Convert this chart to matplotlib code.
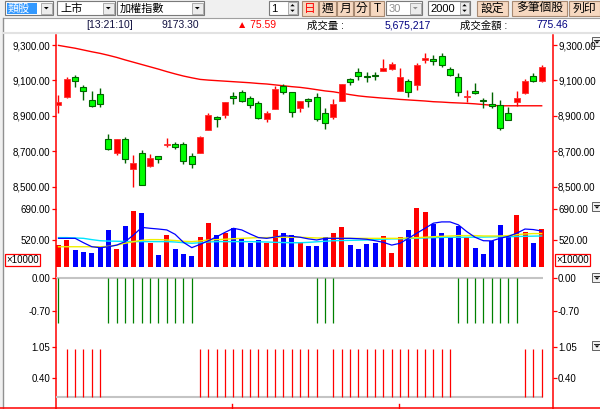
import numpy as np
import matplotlib.pyplot as plt
from matplotlib.patches import Rectangle, Polygon

plt.rcParams['font.family'] = ['Liberation Sans', 'Noto Sans CJK TC', 'DejaVu Sans']

W, H = 600, 409

# 加權指數 日K (開, 高, 低, 收)
opens = [8961, 9008, 9121, 9064, 8989, 9023, 8769, 8688, 8769, 8598,
         8688, 8616, 8675, 8737, 8739, 8739, 8673, 8692, 8820, 8892,
         8905, 9012, 9036, 8999, 8971, 8880, 8937, 9068, 9033, 8946,
         8995, 9005, 8914, 8895, 8984, 9108, 9148, 9127, 9132, 9151,
         9163, 9040, 9098, 9074, 9215, 9219, 9238, 9163, 9118, 9005,
         9040, 8991, 8965, 8961, 8918, 8980, 9031, 9125, 9097]
highs = [9017, 9121, 9130, 9074, 9040, 9055, 8797, 8769, 8779, 8678,
         8706, 8684, 8675, 8773, 8750, 8750, 8688, 8786, 8916, 8899,
         8980, 9036, 9046, 9014, 8984, 8927, 9070, 9078, 9036, 8984,
         9002, 9031, 8942, 8993, 9080, 9115, 9168, 9149, 9149, 9221,
         9206, 9168, 9106, 9197, 9253, 9243, 9255, 9177, 9144, 9046,
         9087, 9002, 9036, 8989, 8951, 9040, 9110, 9144, 9187]
lows = [8916, 8999, 9061, 8989, 8950, 8948, 8710, 8678, 8632, 8500,
        8509, 8609, 8635, 8725, 8712, 8628, 8603, 8692, 8820, 8838,
        8886, 8967, 8980, 8942, 8880, 8867, 8937, 9021, 8895, 8923,
        8951, 8872, 8825, 8880, 8984, 9074, 9102, 9093, 9105, 9151,
        9159, 9040, 9008, 9046, 9197, 9189, 9178, 9125, 9014, 8980,
        9021, 8942, 8946, 8823, 8876, 8955, 9025, 9089, 9093]
closes = [8980, 9106, 9098, 9042, 8955, 8967, 8712, 8769, 8654, 8632,
          8509, 8660, 8654, 8744, 8725, 8646, 8628, 8779, 8905, 8884,
          8980, 9002, 8985, 8961, 8889, 8914, 9050, 9036, 8920, 8984,
          8984, 8880, 8858, 8967, 9080, 9093, 9127, 9118, 9127, 9172,
          9191, 9121, 9036, 9187, 9225, 9211, 9187, 9131, 9033, 9014,
          9027, 8985, 8954, 8829, 8876, 9001, 9098, 9097, 9173.3]
ma_long = [9298, 9290, 9282, 9272, 9262, 9253, 9242, 9230, 9216, 9203,
           9190, 9177, 9164, 9150, 9137, 9125, 9115, 9106, 9102, 9099,
           9096, 9093, 9090, 9087, 9083, 9080, 9075, 9070, 9065, 9061,
           9055, 9048, 9041, 9036, 9028, 9020, 9013, 9008, 9004, 9000,
           8997, 8993, 8990, 8987, 8984, 8980, 8978, 8975, 8973, 8971,
           8968, 8964, 8960, 8957, 8957, 8957, 8957, 8957, 8957]

# 成交量 (x10000)
volumes = [493, 520, 465, 456, 447, 483, 575, 471, 597, 679,
           670, 505, 438, 547, 471, 443, 434, 538, 615, 547,
           560, 584, 529, 502, 520, 502, 575, 557, 547, 502,
           487, 487, 535, 557, 591, 493, 471, 496, 502, 542,
           447, 535, 575, 697, 675, 606, 557, 538, 597, 538,
           478, 441, 515, 602, 547, 657, 565, 505, 579]
vol_ma_blue = [529, 529, 529, 505, 483, 478, 483, 492, 511, 547,
               589, 584, 580, 575, 551, 507, 478, 496, 516, 538,
               562, 584, 575, 553, 533, 529, 536, 544, 540, 535,
               526, 520, 529, 529, 529, 529, 527, 524, 516, 507,
               492, 502, 529, 557, 584, 612, 619, 619, 603, 566,
               535, 516, 515, 529, 540, 557, 580, 577, 569]
vol_ma_yellow = [483, 483, 483, 483, 483, 483, 485, 492, 502, 511,
                 518, 522, 522, 520, 517, 513, 511, 515, 520, 522,
                 524, 527, 529, 531, 533, 533, 535, 535, 535, 535,
                 533, 531, 531, 529, 529, 529, 529, 529, 529, 529,
                 529, 529, 531, 533, 535, 538, 540, 542, 544, 544,
                 544, 542, 542, 542, 544, 549, 553, 555, 555]
vol_ma_cyan = [533, 533, 531, 529, 522, 516, 514, 513, 512, 511,
               511, 511, 511, 511, 509, 505, 502, 505, 509, 511,
               511, 511, 511, 511, 510, 509, 507, 506, 505, 505,
               507, 510, 513, 516, 517, 518, 519, 520, 522, 524,
               526, 526, 528, 530, 531, 533, 534, 535, 535, 535,
               535, 536, 537, 538, 538, 539, 540, 541, 542]

# 訊號
sell_days = [0, 6, 7, 8, 9, 10, 11, 12, 13, 14, 15, 16, 31, 32, 33,
             48, 49, 50, 51, 52, 53, 54, 55]
buy_days = [1, 2, 3, 4, 5] + list(range(17, 32)) + list(range(33, 48)) + [56, 57, 58]

price_ticks = [8500, 8700, 8900, 9100, 9300]
vol_ticks = [520, 690]
sig1_ticks = [-0.70, 0.00]
sig2_ticks = [0.40, 1.05]

fig = plt.figure(figsize=(6, 4.09), dpi=100)
fig.patch.set_facecolor('#f0f0f0')

# background / frame layer in pixel coords
bg = fig.add_axes([0, 0, 1, 1])
bg.set_xlim(0, W)
bg.set_ylim(H, 0)
bg.axis('off')
bg.set_zorder(0)

bg.add_patch(Rectangle((3, 18), W - 3, H - 18, fc='white', ec='none'))
bg.plot([3, W], [18, 18], color='#a0a0a0', lw=0.8)
bg.plot([2.5, 2.5], [18, H], color='#909090', lw=1)
bg.plot([3, W], [32.5, 32.5], color='#e2e2e2', lw=1.5)
bg.plot([56, 56], [35, H], color='red', lw=1.1)
bg.plot([552.5, 552.5], [35, H], color='red', lw=1.1)
bg.plot([0, W], [407.5, 407.5], color='red', lw=1.1)
for tx in [232, 399]:
    bg.plot([tx, tx], [404, 407.5], color='red', lw=1)


def tri(x, y, s=2.5, up=False, color='black'):
    d = -s if up else s
    bg.add_patch(Polygon([(x - s, y - d / 2), (x + s, y - d / 2), (x, y + d / 2)],
                         closed=True, fc=color, ec='none'))


def dropdown(x0, x1, label, highlight=False, grey=False):
    bg.add_patch(Rectangle((x0, 1), x1 - x0, 14, fc='white', ec='#7a7a7a', lw=0.8))
    bg.add_patch(Rectangle((x1 - 12, 2.5), 10.5, 11, fc='#ececec', ec='#a0a0a0', lw=0.6))
    tri(x1 - 6.7, 8.2, 2.4, color='#909090' if grey else 'black')
    if highlight:
        bg.add_patch(Rectangle((x0 + 2, 2.5), 30, 11, fc='#3399ff', ec='none'))
    bg.text(x0 + 3, 8.5, label, fontsize=8, va='center', ha='left',
            color='white' if highlight else ('#909090' if grey else 'black'))


def spin(x0, x1, label):
    bg.add_patch(Rectangle((x0, 1), x1 - x0, 14, fc='white', ec='#7a7a7a', lw=0.8))
    bg.add_patch(Rectangle((x1 - 10, 2), 9, 12, fc='#ececec', ec='#a0a0a0', lw=0.6))
    tri(x1 - 5.5, 5.2, 2.2, up=True)
    tri(x1 - 5.5, 10.8, 2.2)
    bg.text(x0 + 2, 8.5, label, fontsize=8, va='center', ha='left')


def button(x0, x1, label, color='black'):
    bg.add_patch(Rectangle((x0, 1), x1 - x0, 15, fc='#f6d8c0', ec='#a88a72', lw=0.8))
    bg.text((x0 + x1) / 2, 8.8, label, fontsize=8.5, va='center', ha='center', color=color)


dropdown(5, 53, '類股', highlight=True)
dropdown(57, 115, '上市')
dropdown(117, 204, '加權指數')
spin(269, 298, '1')
button(302, 318, '日', color='red')
button(319, 336, '週')
button(337, 353, '月')
button(354, 369, '分')
button(370, 384, 'T')
dropdown(386, 422, '30', grey=True)
spin(428, 470, '2000')
button(477, 508, '設定')
button(512, 567, '多筆個股')
button(569, 600, '列印')

row_y = 25.5
bg.text(86, row_y, '[13:21:10]', fontsize=7.5, va='center', color='#101040')
bg.text(161, row_y, '9173.30', fontsize=7.5, va='center', color='#101040')
bg.text(237, row_y, '▲ 75.59', fontsize=7.5, va='center', color='red')
bg.text(307, row_y, '成交量 :', fontsize=7.5, va='center', color='black')
bg.text(385, row_y, '5,675,217', fontsize=7.5, va='center', color='#000080')
bg.text(460, row_y, '成交金額 :', fontsize=7.5, va='center', color='black')
bg.text(536, row_y, '775.46', fontsize=7.5, va='center', color='#000080')

for bx, by in [(592, 37), (592, 202), (592, 273), (592, 341)]:
    bg.add_patch(Rectangle((bx, by), 9, 9, fc='#f0f0f0', ec='#606060', lw=0.7))
    bg.plot([bx + 2, bx + 8], [by + 2.8, by + 2.8], color='black', lw=0.6)
    tri(bx + 5, by + 5.6, 2.2)

for bx in [5, 555]:
    bg.add_patch(Rectangle((bx, 254), 34.5, 12, fc='white', ec='red', lw=0.9))
    bg.text(bx + 17.2, 260.3, '×10000', fontsize=7, ha='center', va='center')


def px_axes(x0, y0, x1, y1, ylim, ticks, fmt):
    ax = fig.add_axes([x0 / W, 1 - y1 / H, (x1 - x0) / W, (y1 - y0) / H])
    ax.set_facecolor('none')
    ax.set_zorder(2)
    for s in ax.spines.values():
        s.set_visible(False)
    ax.set_xlim(-0.3, 59.3)
    ax.set_ylim(*ylim)
    ax.set_xticks([])
    ax.set_yticks(ticks)
    ax.set_yticklabels([fmt.format(t) for t in ticks])
    ax.tick_params(axis='y', left=True, right=True, labelleft=True, labelright=True,
                   color='red', labelcolor='black', length=3, width=0.9, pad=1,
                   labelsize=7)
    return ax


x = np.arange(len(closes))
o = np.array(opens, dtype=float)
c = np.array(closes, dtype=float)
up = c >= o

# price panel
ax1 = px_axes(56, 33, 552.5, 200, (8425, 9368), price_ticks, '{:,.2f}')
wick_col = np.where(up, 'red', '#006400')
ax1.vlines(x, lows, highs, colors=wick_col, lw=1, zorder=2)
body_h = np.maximum(np.abs(c - o), 6)
body_b = np.minimum(o, c)
ax1.bar(x[up], body_h[up], bottom=body_b[up], width=0.72,
        color='red', edgecolor='#ff3030', lw=0.6, zorder=3)
ax1.bar(x[~up], body_h[~up], bottom=body_b[~up], width=0.72,
        color='#00ff00', edgecolor='#006400', lw=0.8, zorder=3)
ax1.plot(x, ma_long, color='red', lw=1, zorder=1)

# volume panel
ax2 = px_axes(56, 200, 552.5, 267, (372, 739), vol_ticks, '{:.2f}')
v = np.array(volumes, dtype=float)
ax2.bar(x, v - 372, bottom=372, width=0.6,
        color=np.where(up, 'red', '#0000ff'), zorder=2)
ax2.plot(x, vol_ma_cyan, color='#00e5ff', lw=1, zorder=3)
ax2.plot(x, vol_ma_yellow, color='#f0f000', lw=1, zorder=3)
ax2.plot(x, vol_ma_blue, color='#0000ff', lw=0.9, zorder=4)

# signal panels
ax3 = px_axes(56, 272, 552.5, 330, (-1.103, 0.127), sig1_ticks, '{:.2f}')
ax3.hlines(0, -0.3, 58.1, color='#c4c4c4', lw=1.5, zorder=1)
ax3.vlines(sell_days, -0.95, 0, colors='#008000', lw=0.9, zorder=2)

ax4 = px_axes(56, 336, 552.5, 400, (-0.061, 1.281), sig2_ticks, '{:.2f}')
ax4.hlines(0, -0.3, 58.1, color='#c4c4c4', lw=1.5, zorder=1)
ax4.vlines(buy_days, 0, 1.0, colors='red', lw=0.9, zorder=2)

fig.savefig('out.png', dpi=100, facecolor=fig.get_facecolor())
